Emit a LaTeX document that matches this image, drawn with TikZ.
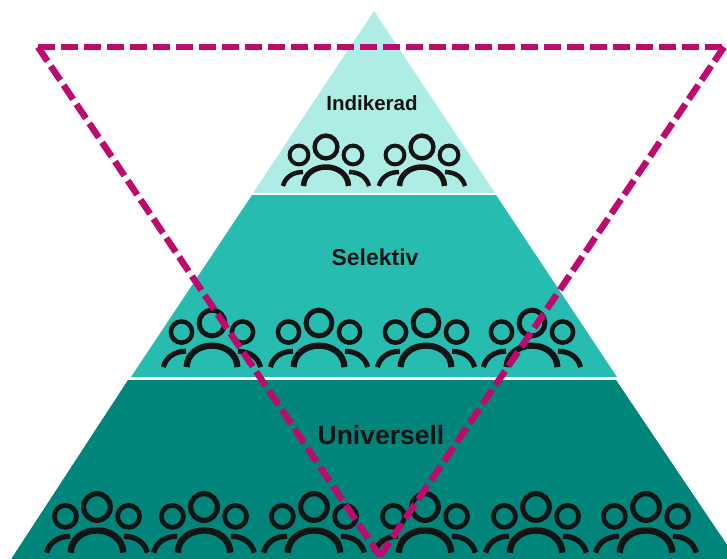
\documentclass[tikz,border=0pt]{standalone}
\usepackage{fontspec}
\setmainfont{Liberation Sans}
\definecolor{tierA}{HTML}{AEEDE6}
\definecolor{tierB}{HTML}{26BDB0}
\definecolor{tierC}{HTML}{00857B}
\definecolor{mag}{HTML}{BE0A6E}
\definecolor{ink}{HTML}{141414}
\def\ps{1}
\tikzset{
  tier/.style={fill=#1,draw=none},
  lbl/.style={font=\bfseries\fontsize{#1}{#1}\selectfont,text=ink,inner sep=0pt},
  dashline/.style={draw=mag,line width=6.5pt,dash pattern=on 17pt off 6pt,line cap=butt,line join=miter},
  people/.pic={
    \draw[ink,line width=\ps*4.4pt] (0,0) circle[radius=11.4];
    \draw[ink,line width=\ps*4pt] (-27,8) circle[radius=9.4] (27,8) circle[radius=9.4];
    \draw[ink,line width=\ps*5.5pt] (-22.5,39) .. controls (-22,27) and (-11.5,20) .. (0,20) .. controls (11.5,20) and (22,27) .. (22.5,39);
    \draw[ink,line width=\ps*4.5pt] (-43,39) .. controls (-41,31) and (-34,25) .. (-23,25);
    \draw[ink,line width=\ps*4.5pt] (43,39) .. controls (41,31) and (34,25) .. (23,25);
  }
}
\begin{document}
\begin{tikzpicture}[x=1pt,y=-1pt]
\useasboundingbox (0,0) rectangle (727,558);
\begin{scope}
\clip (0,0) rectangle (727,558);
\fill[tier=tierC] (128,380) -- (616,380) -- (744,570) -- (4,570) -- cycle;
\fill[tier=tierB] (252,195) -- (496,195) -- (617,377) -- (131,377) -- cycle;
\fill[tier=tierA] (374,11) -- (495,193) -- (253,193) -- cycle;
\node[lbl=20.5] (ind) at (372,103) {Indikerad};
\node[lbl=23] (sel) at (375,257) {Selektiv};
\node[lbl=26.5] (uni) at (381,435) {Universell};
\foreach \px in {326,422} \pic at (\px,147) {people};
\def\ps{1.13}
\foreach \px in {212,319,426,532} \pic[scale=\ps] at (\px,323) {people};
\def\ps{1.17}
\foreach \px in {97,204,314,425,536,646} \pic[scale=\ps] at (\px,507) {people};
\coordinate (tl) at (38,47);
\coordinate (tr) at (724,47);
\coordinate (bt) at (380,556);
\path[dashline] (tl) -- (tr);
\path[dashline] (tl) -- (bt);
\path[dashline] (tr) -- (bt);
\end{scope}
\end{tikzpicture}
\end{document}
